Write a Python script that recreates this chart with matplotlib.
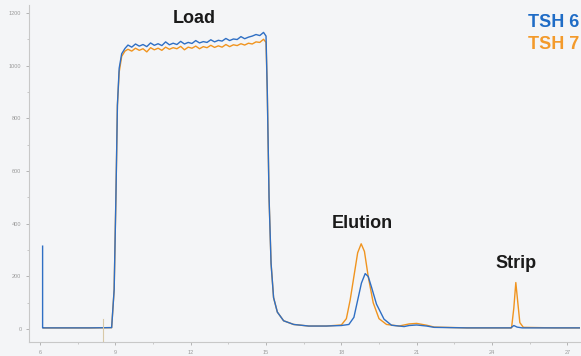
import matplotlib

matplotlib.use("Agg")
from matplotlib import pyplot as plt
from matplotlib.ticker import MultipleLocator

# TSH 6 (blu): tempo [min], segnale
t6 = [6.10, 6.10, 6.13, 7.0, 8.0, 8.85, 8.95, 9.02, 9.08, 9.15, 9.25, 9.38,
      9.5, 9.65, 9.8, 9.95, 10.1, 10.25, 10.4, 10.55, 10.7, 10.85, 11.0,
      11.15, 11.3, 11.45, 11.6, 11.75, 11.9, 12.05, 12.2, 12.35, 12.5, 12.65,
      12.8, 12.95, 13.1, 13.25, 13.4, 13.55, 13.7, 13.85, 14.0, 14.15, 14.3,
      14.45, 14.6, 14.75, 14.9, 15.0, 15.05, 15.12, 15.2,
      15.3, 15.45, 15.7, 16.1, 16.7, 17.4, 18.0, 18.3, 18.5, 18.65, 18.8,
      18.95, 19.07, 19.2, 19.4, 19.7, 20.0, 20.5, 20.7, 21.0, 21.4, 21.7,
      23.0, 24.75, 24.87, 25.0, 25.2, 26.5, 27.6]
v6 = [315, 5, 5, 5, 5, 6, 150, 500, 850, 990, 1045, 1065,
      1078, 1070, 1082, 1074, 1080, 1072, 1086, 1077, 1083, 1076, 1090,
      1079, 1085, 1080, 1092, 1082, 1088, 1084, 1095, 1086, 1091, 1088,
      1098, 1090, 1096, 1093, 1103, 1095, 1101, 1099, 1110, 1102, 1108,
      1112, 1118, 1114, 1126, 1112, 900, 500, 250,
      120, 65, 32, 18, 12, 12, 14, 18, 45, 110, 175,
      211, 200, 160, 95, 38, 15, 10, 14, 16, 12, 7,
      5, 5, 14, 8, 5, 5, 5]

# TSH 7 (arancione)
t7 = [6.13, 7.0, 8.0, 8.85, 8.95, 9.02, 9.08, 9.15, 9.25, 9.38,
      9.5, 9.65, 9.8, 9.95, 10.1, 10.25, 10.4, 10.55, 10.7, 10.85, 11.0,
      11.15, 11.3, 11.45, 11.6, 11.75, 11.9, 12.05, 12.2, 12.35, 12.5, 12.65,
      12.8, 12.95, 13.1, 13.25, 13.4, 13.55, 13.7, 13.85, 14.0, 14.15, 14.3,
      14.45, 14.6, 14.75, 14.9, 15.0, 15.05, 15.12, 15.2,
      15.3, 15.45, 15.7, 16.1, 16.7, 17.4, 18.0, 18.2, 18.35, 18.5, 18.65,
      18.79, 18.92, 19.07, 19.27, 19.5, 19.8, 20.3, 20.7, 21.0, 21.4, 21.7,
      23.0, 24.78, 24.87, 24.95, 25.03, 25.11, 25.25, 26.5, 27.6]
v7 = [5, 5, 5, 6, 150, 500, 850, 975, 1035, 1055,
      1062, 1055, 1066, 1058, 1064, 1052, 1068, 1060, 1066, 1058, 1070,
      1062, 1068, 1064, 1073, 1060, 1070, 1066, 1074, 1064, 1072, 1068,
      1077, 1069, 1075, 1070, 1080, 1072, 1079, 1076, 1083, 1078, 1085,
      1082, 1090, 1088, 1100, 1088, 900, 500, 250,
      120, 65, 32, 18, 12, 12, 16, 40, 110, 200, 290,
      324, 295, 200, 100, 40, 18, 12, 20, 22, 15, 8,
      5, 5, 80, 177, 100, 25, 7, 5, 5]

x_ticks = [6, 9, 12, 15, 18, 21, 24, 27]
y_ticks = [0, 200, 400, 600, 800, 1000, 1200]

BLUE = "#2f6fc4"
ORANGE = "#f0941f"
plt.rcParams["font.family"] = ["Liberation Sans", "DejaVu Sans"]

fig = plt.figure(figsize=(5.81, 3.56), dpi=100, facecolor="#f4f5f7")
ax = fig.add_axes([0.050, 0.039, 0.948, 0.947], facecolor="#f4f5f7")

ax.plot(t7, v7, color=ORANGE, lw=1.0)
ax.plot(t6, v6, color=BLUE, lw=1.0)
ax.plot([8.52, 8.52], [-45, 40], color="#d8c9a8", lw=0.8)

ax.set_xlim(5.56, 27.5)
ax.set_ylim(-49, 1230)
ax.set_xticks(x_ticks)
ax.set_yticks(y_ticks)
ax.xaxis.set_minor_locator(MultipleLocator(1.5))
ax.yaxis.set_minor_locator(MultipleLocator(100))
ax.tick_params(labelsize=4, colors="#9a9a9a", length=2, width=0.5)
ax.tick_params(which="minor", length=1.5, width=0.5, colors="#b5b5b5")
for s in ("top", "right"):
    ax.spines[s].set_visible(False)
for s in ("left", "bottom"):
    ax.spines[s].set_color("#c8c8c8")
    ax.spines[s].set_linewidth(0.8)

txt = dict(fontsize=13, fontweight="bold", ha="center", va="center", color="#1a1a1a")
ax.text(12.16, 1178, "Load", **txt)
ax.text(18.85, 400, "Elution", **txt)
ax.text(24.95, 250, "Strip", **txt)
ax.text(26.45, 1165, "TSH 6", fontsize=13, fontweight="bold", color="#1f6cc6",
        ha="center", va="center")
ax.text(26.45, 1080, "TSH 7", fontsize=13, fontweight="bold", color="#f39a2b",
        ha="center", va="center")

fig.savefig("out.png", dpi=100, facecolor=fig.get_facecolor())
